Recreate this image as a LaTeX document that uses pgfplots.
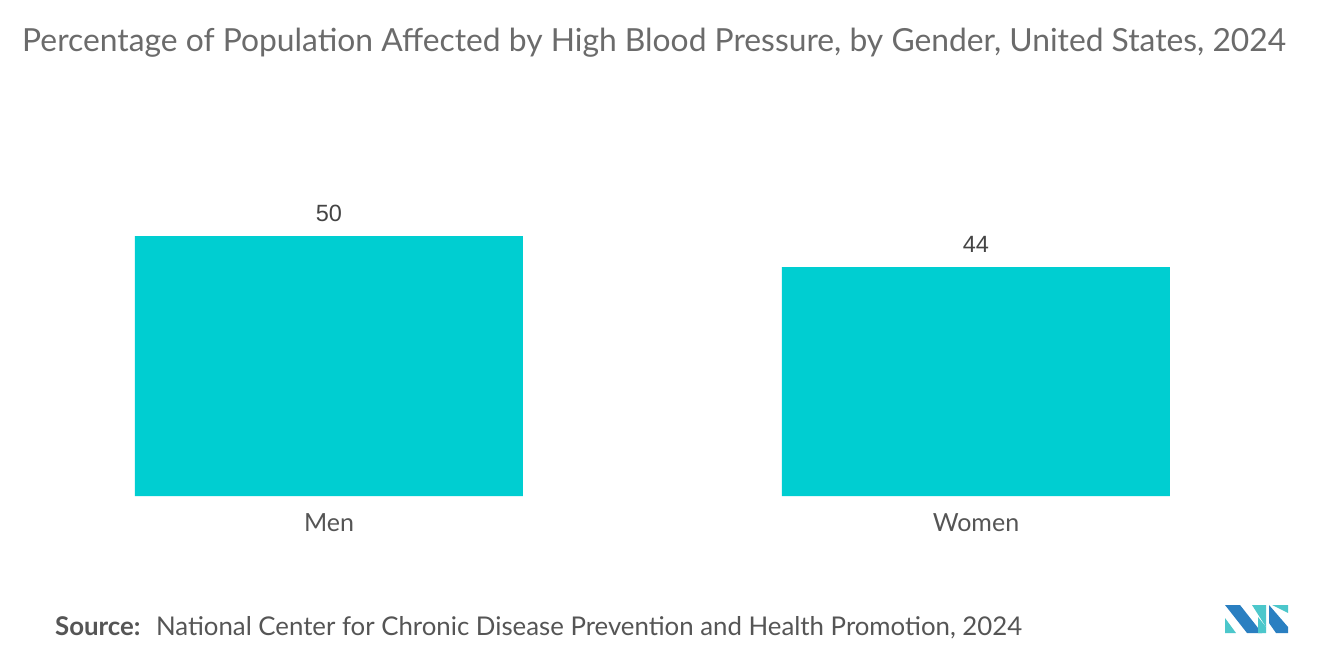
\documentclass[border=0pt]{standalone}
\usepackage{pgfplots}
\pgfplotsset{compat=1.18}
\usepackage{fontspec}
\setmainfont{Lato}
\newfontfamily\numfont{Liberation Sans}
\definecolor{barcol}{HTML}{00CED1}
\definecolor{titlegray}{HTML}{6B6B6B}
\definecolor{labgray}{HTML}{555555}
\definecolor{numgray}{HTML}{444444}
\definecolor{logoblue}{HTML}{2A7FC1}
\definecolor{logoteal}{HTML}{4CC7CB}
\begin{document}
\begin{tikzpicture}[x=1pt,y=1pt]
\path[fill=white] (0,0) rectangle (1320,665);
% title and source
\node[anchor=base west, text=titlegray, font=\fontsize{31.8}{36}\selectfont, inner sep=0] at (22,613) {Percentage of Population Affected by High Blood Pressure, by Gender, United States, 2024};
\node[anchor=base west, text=labgray, font=\fontsize{25.8}{30}\selectfont, inner sep=0] at (55,30) {\textbf{Source:}\hspace{0.6em}National Center for Chronic Disease Prevention and Health Promotion, 2024};
% logo
\fill[logoteal] (1225,47) -- (1225,32) -- (1236,32) -- cycle;
\fill[logoblue] (1225,60) -- (1240,60) -- (1262,32) -- (1247,32) -- cycle;
\fill[logoteal] (1252,60) -- (1266,60) -- (1266,38) -- cycle;
\fill[logoteal] (1258,48) -- (1258,32) -- (1266,32) -- (1266,38) -- cycle;
\fill[logoteal] (1272,60) -- (1288,60) -- (1288,52) -- cycle;
\fill[logoblue] (1269,60) -- (1288,38) -- (1288,32) -- (1276,32) -- (1269,42) -- cycle;
\begin{axis}[
    at={(0pt,169pt)}, anchor=south west,
    scale only axis,
    width=1320pt, height=260pt,
    xmin=-0.5085, xmax=1.5317,
    ymin=0, ymax=50,
    clip=false,
    axis x line=bottom, axis y line=none,
    axis line style={draw=none},
    major tick length=0pt,
    xtick={0,1}, xticklabels={Men, Women},
    xticklabel style={text=labgray, font=\fontsize{25}{30}\selectfont, yshift=-14pt},
    ytick=\empty,
    ybar, bar width=388pt,
    nodes near coords,
    /pgf/number format/assume math mode=true,
    every node near coord/.append style={text=numgray, font=\numfont\fontsize{23.5}{28}\selectfont, yshift=11pt},
]
\addplot[fill=barcol, draw=none] coordinates {(0,50) (1,44)};
\end{axis}
\end{tikzpicture}
\end{document}
